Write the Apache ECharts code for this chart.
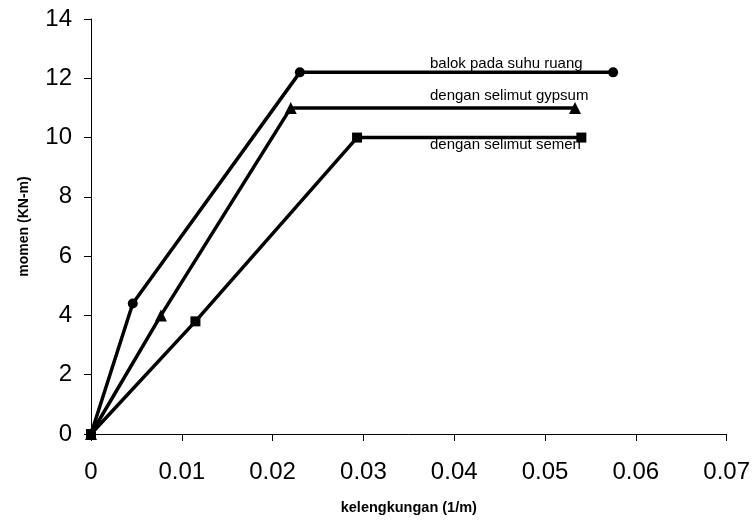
<!DOCTYPE html>
<html>
<head>
<meta charset="utf-8">
<script src="https://cdn.jsdelivr.net/npm/echarts@6/dist/echarts.min.js"></script>
<style>
  html, body { margin: 0; padding: 0; background: #fff; }
  #chart { width: 753px; height: 520px; }
</style>
</head>
<body>
<div id="chart"></div>
<script>
// Moment–curvature curves for three beam conditions
const seriesNames = ['balok pada suhu ruang', 'dengan selimut gypsum', 'dengan selimut semen'];
const curvatureRuang  = [0, 0.0046, 0.0230, 0.0575];
const momenRuang      = [0, 4.4, 12.2, 12.2];
const curvatureGypsum = [0, 0.0077, 0.0220, 0.0533];
const momenGypsum     = [0, 4.0, 11.0, 11.0];
const curvatureSemen  = [0, 0.0115, 0.0293, 0.0540];
const momenSemen      = [0, 3.8, 10.0, 10.0];
const markerShapes    = ['circle', 'triangle', 'rect'];
const xTicks = { min: 0, max: 0.07, step: 0.01 };
const yTicks = { min: 0, max: 14, step: 2 };

const pairs = (xs, ys) => xs.map((x, i) => [x, ys[i]]);
const allData = [
  pairs(curvatureRuang, momenRuang),
  pairs(curvatureGypsum, momenGypsum),
  pairs(curvatureSemen, momenSemen)
];

const chart = echarts.init(document.getElementById('chart'));
const font = 'Liberation Sans, Arial, sans-serif';

chart.setOption({
  animation: false,
  backgroundColor: '#fff',
  grid: { left: 91, right: 24, top: 19, bottom: 85, containLabel: false },
  xAxis: {
    type: 'value',
    min: xTicks.min, max: xTicks.max, interval: xTicks.step,
    name: 'kelengkungan (1/m)',
    nameLocation: 'middle',
    nameGap: 66,
    nameTextStyle: { fontFamily: font, fontSize: 14.5, fontWeight: 'bold', color: '#000' },
    axisLine: { show: true, lineStyle: { color: '#000', width: 1 } },
    axisTick: { show: true, inside: false, length: 7, lineStyle: { color: '#000' } },
    axisLabel: { fontFamily: font, fontSize: 24, color: '#000', margin: 26,
                 formatter: v => String(+v.toFixed(2)) },
    splitLine: { show: false }
  },
  yAxis: {
    type: 'value',
    min: yTicks.min, max: yTicks.max, interval: yTicks.step,
    name: 'momen (KN-m)',
    nameLocation: 'middle',
    nameGap: 60,
    nameRotate: 90,
    nameTextStyle: { fontFamily: font, fontSize: 14, fontWeight: 'bold', color: '#000' },
    axisLine: { show: true, lineStyle: { color: '#000', width: 1 } },
    axisTick: { show: true, inside: false, length: 7, lineStyle: { color: '#000' } },
    axisLabel: { fontFamily: font, fontSize: 24, color: '#000', margin: 19 },
    splitLine: { show: false }
  },
  series: allData.map((d, i) => ({
    name: seriesNames[i],
    type: 'line',
    data: d,
    symbol: markerShapes[i],
    symbolSize: i === 1 ? 12 : 10,
    showAllSymbol: true,
    lineStyle: { color: '#000', width: 3.5 },
    itemStyle: { color: '#000' },
    z: 3
  })),
  graphic: [
    { type: 'text', left: 430, top: 56, style: { text: seriesNames[0], font: '15px ' + font, fill: '#000' } },
    { type: 'text', left: 430, top: 88, style: { text: seriesNames[1], font: '15px ' + font, fill: '#000' } },
    { type: 'text', left: 430, top: 137, style: { text: seriesNames[2], font: '15px ' + font, fill: '#000' } }
  ]
});
</script>
</body>
</html>
